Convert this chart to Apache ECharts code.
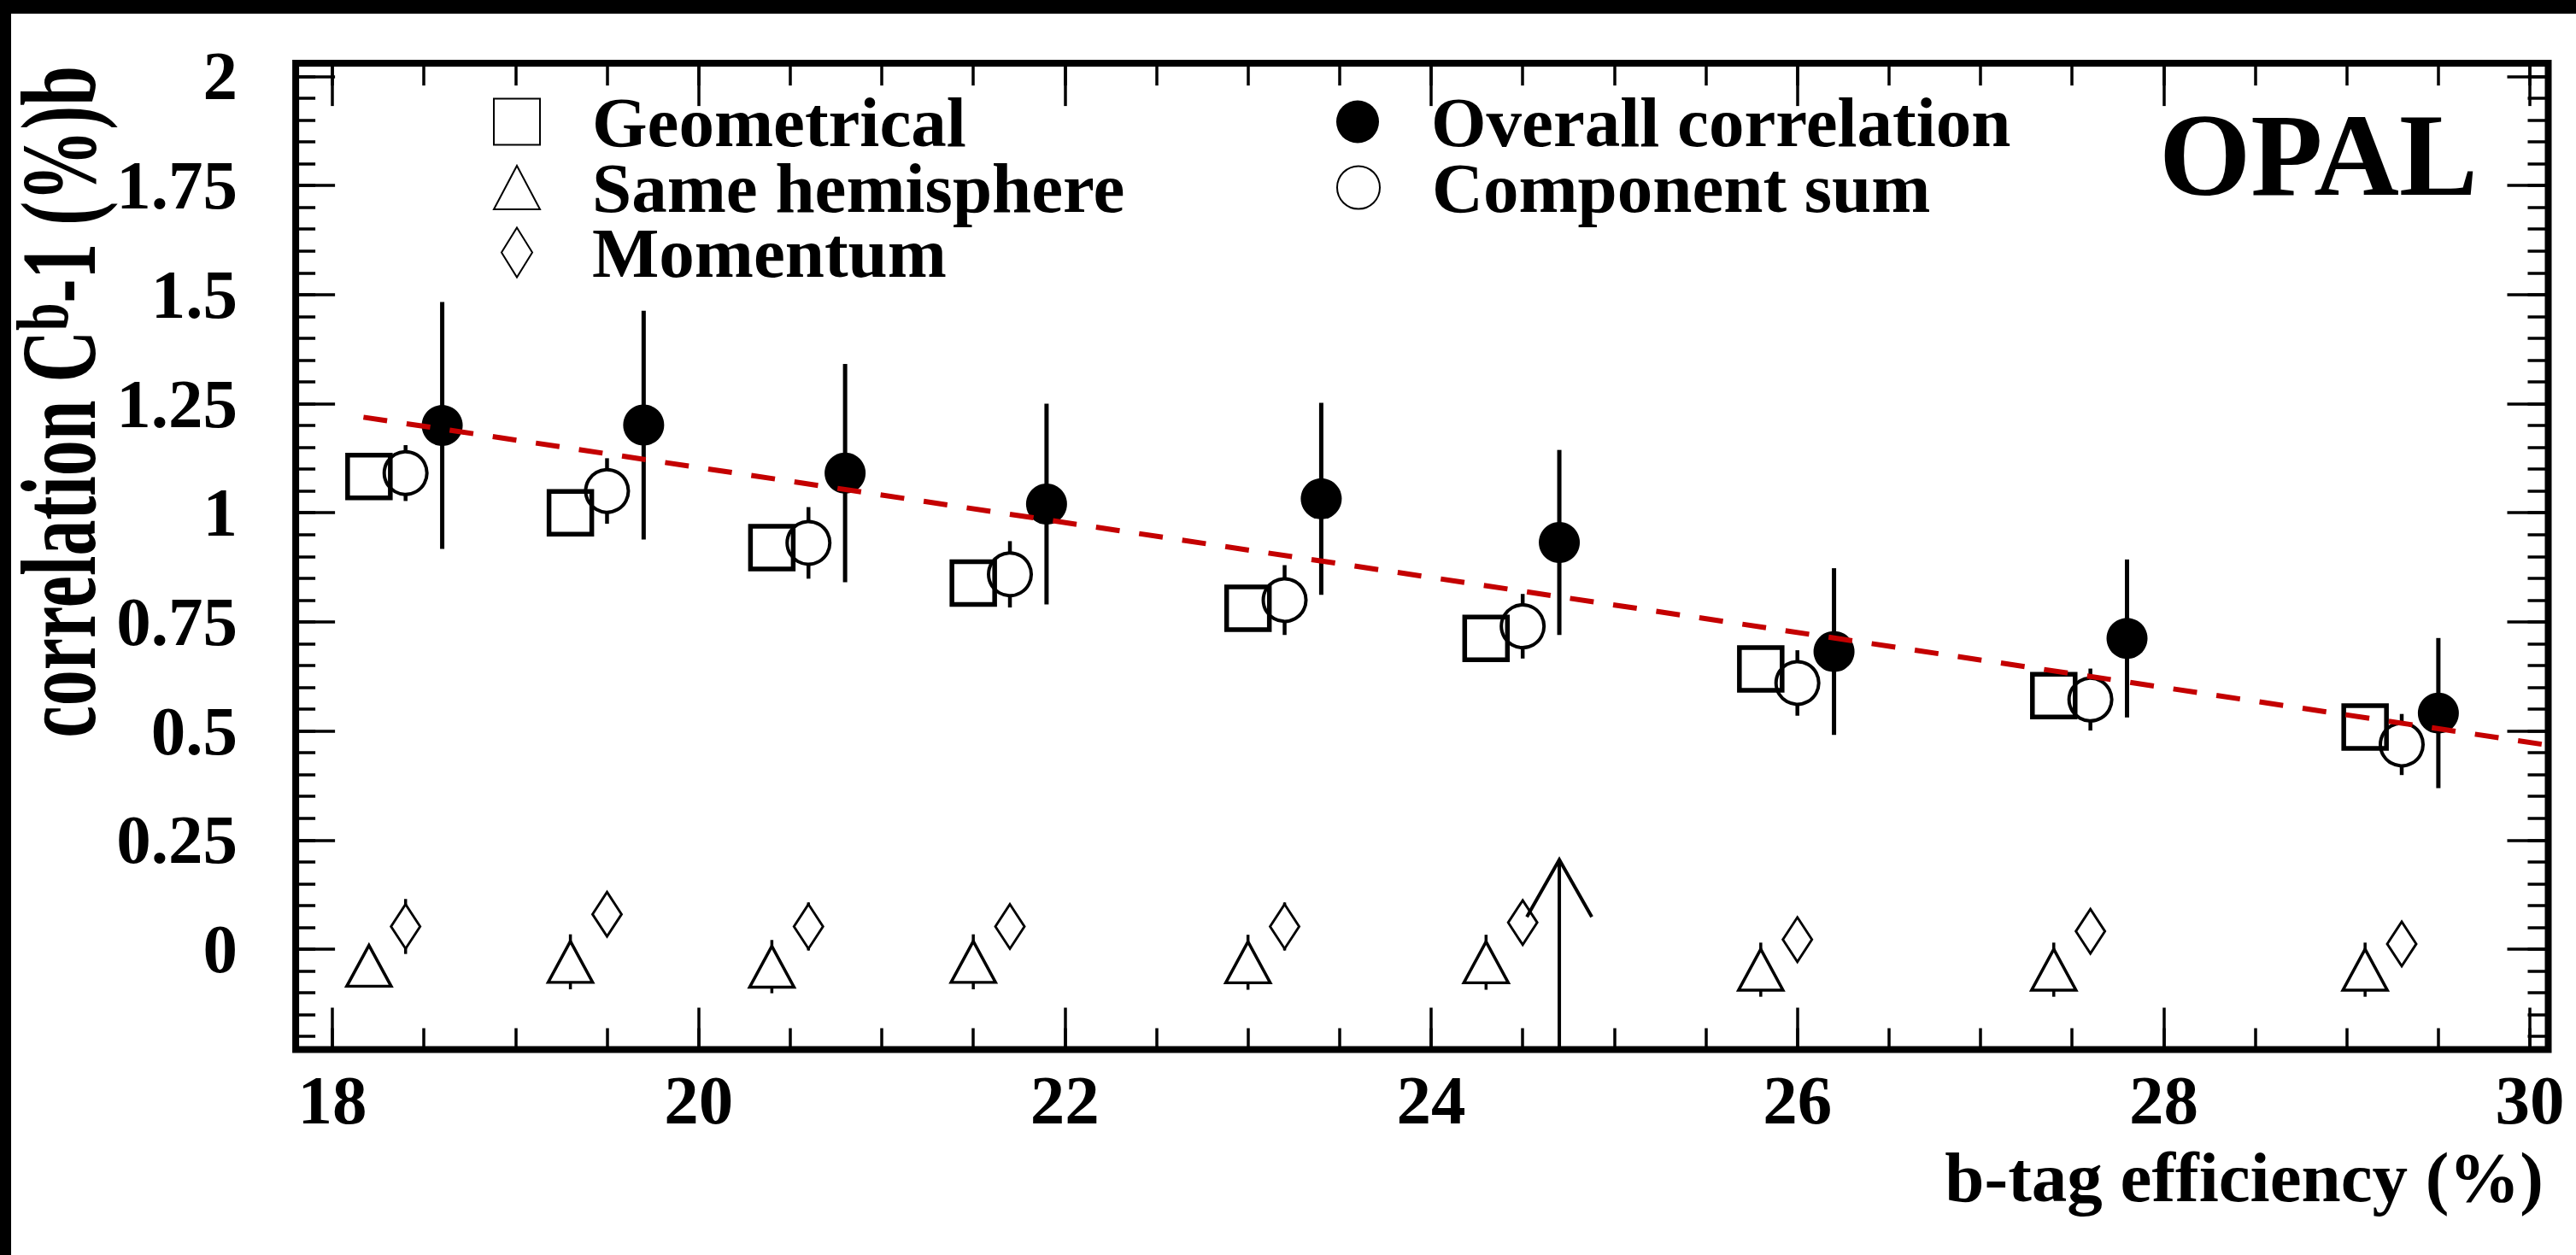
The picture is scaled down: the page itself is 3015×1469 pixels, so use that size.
<!DOCTYPE html>
<html><head><meta charset="utf-8">
<script src="https://cdn.jsdelivr.net/npm/echarts@6/dist/echarts.min.js"></script>
<style>
html,body{margin:0;padding:0;background:#fff;width:3015px;height:1469px;overflow:hidden}
#chart{position:absolute;left:0;top:0;width:3015px;height:1469px;background:#fff}
</style></head><body><div id="chart"></div>
<script>
// ---------------- data ----------------
const effGeom    = [18.2, 19.3, 20.4, 21.5, 23.0, 24.3, 25.8, 27.4, 29.1];
const effComp    = [18.4, 19.5, 20.6, 21.7, 23.2, 24.5, 26.0, 27.6, 29.3];
const effOverall = [18.6, 19.7, 20.8, 21.9, 23.4, 24.7, 26.2, 27.8, 29.5];

const geometrical = [1.083, 1.000, 0.920, 0.839, 0.781, 0.712, 0.642, 0.581, 0.509];
const sameHemi    = [-0.038, -0.029, -0.040, -0.029, -0.030, -0.030, -0.047, -0.047, -0.047];
const sameHemiErr = [0.040, 0.063, 0.061, 0.063, 0.063, 0.063, 0.062, 0.062, 0.062];
const momentum    = [0.052, 0.080, 0.052, 0.052, 0.052, 0.061, 0.022, 0.041, 0.012];
const momentumErr = [0.063, 0.030, 0.055, 0.030, 0.055, 0.030, 0.030, 0.030, 0.030];
const overall     = [1.200, 1.201, 1.091, 1.020, 1.032, 0.932, 0.682, 0.712, 0.541];
const overallErr  = [0.283, 0.262, 0.250, 0.230, 0.220, 0.212, 0.191, 0.181, 0.172];
const compSum     = [1.091, 1.050, 0.931, 0.859, 0.800, 0.740, 0.610, 0.572, 0.469];
const compSumErr  = [0.064, 0.075, 0.082, 0.076, 0.080, 0.074, 0.075, 0.071, 0.070];

const fitX = [18.17, 30.25];
const fitY = [1.219, 0.458];

const arrowX = [24.7];
const arrowTipY = [0.205];

const xRange = [17.8, 30.1];
const yRange = [-0.23, 2.03];
const xMajorTicks = [18, 20, 22, 24, 26, 28, 30];
const xMinorTicks = [18,18.5,19,19.5,20,20.5,21,21.5,22,22.5,23,23.5,24,24.5,25,25.5,26,26.5,27,27.5,28,28.5,29,29.5,30];
const yMajorTicks = [0, 0.25, 0.5, 0.75, 1, 1.25, 1.5, 1.75, 2];
const yMinorTicks = [-0.2,-0.15,-0.1,-0.05,0,0.05,0.1,0.15,0.2,0.25,0.3,0.35,0.4,0.45,0.5,0.55,0.6,0.65,0.7,0.75,0.8,0.85,0.9,0.95,1,1.05,1.1,1.15,1.2,1.25,1.3,1.35,1.4,1.45,1.5,1.55,1.6,1.65,1.7,1.75,1.8,1.85,1.9,1.95,2];

const legendLeft  = ['Geometrical', 'Same hemisphere', 'Momentum'];
const legendRight = ['Overall correlation', 'Component sum'];
const xTitle = 'b-tag efficiency (%)';
const expLabel = 'OPAL';

// ---------------- chart ----------------
const FONT = "'Liberation Serif', 'Times New Roman', serif";
const chart = echarts.init(document.getElementById('chart'), null, {renderer: 'svg'});

const ICON_SQUARE = 'path://M0,0H54V54H0Z';
const ICON_TRI = 'path://M27,0L54,51L0,51Z';
const ICON_DIAMOND = 'path://M18,0L36,29L18,58L0,29Z';
const ICON_CIRCLE = 'path://M25,0A25,25,0,1,1,25,50A25,25,0,1,1,25,0Z';

function xAxisDef(pos, ticks, len, withLabels) {
  return {
    type: 'value', position: pos, min: xRange[0], max: xRange[1],
    axisLine: {show: false, onZero: false}, splitLine: {show: false},
    axisTick: {show: true, inside: true, length: len, customValues: ticks,
               lineStyle: {color: '#000', width: 3.5}},
    axisLabel: withLabels ? {show: true, customValues: xMajorTicks, margin: 19, color: '#000',
               fontFamily: FONT, fontWeight: 'bold', fontSize: 81,
               formatter: v => String(v)} : {show: false}
  };
}
function yAxisDef(pos, ticks, len, withLabels) {
  return {
    type: 'value', position: pos, min: yRange[0], max: yRange[1],
    axisLine: {show: false, onZero: false}, splitLine: {show: false},
    axisTick: {show: true, inside: true, length: len, customValues: ticks,
               lineStyle: {color: '#000', width: 3.5}},
    axisLabel: withLabels ? {show: true, customValues: yMajorTicks, margin: 68, color: '#000',
               fontFamily: FONT, fontWeight: 'bold', fontSize: 81,
               formatter: v => String(v)} : {show: false}
  };
}

function errBar(gap, width) {
  return function (params, api) {
    const x = api.value(0), y = api.value(1), e = api.value(2);
    const c = api.coord([x, y]);
    const top = api.coord([x, y + e]);
    const bot = api.coord([x, y - e]);
    const kids = [];
    if (c[1] - gap > top[1]) kids.push({type: 'line', shape: {x1: c[0], y1: top[1], x2: c[0], y2: c[1] - gap},
      style: {stroke: '#000', lineWidth: width}});
    if (bot[1] > c[1] + gap) kids.push({type: 'line', shape: {x1: c[0], y1: c[1] + gap, x2: c[0], y2: bot[1]},
      style: {stroke: '#000', lineWidth: width}});
    return {type: 'group', children: kids};
  };
}

const hollow = (w) => ({color: 'rgba(0,0,0,0)', borderColor: '#000', borderWidth: w, opacity: 1});

function legendRow(name, icon, left, iconCenterY, iconW) {
  return {
    left: left, top: iconCenterY - 35 - 9, orient: 'vertical', padding: 0,
    itemWidth: iconW, itemHeight: 58, selectedMode: false,
    textStyle: {color: '#000', fontFamily: FONT, fontWeight: 'bold', fontSize: 83, lineHeight: 70,
                padding: [0, 0, 0, 56]},
    data: [{name: name, icon: icon}]
  };
}

const option = {
  animation: false,
  backgroundColor: '#fff',
  grid: {left: 346.1, top: 74.1, width: 2636.4, height: 1154.4, show: true,
         borderColor: '#000', borderWidth: 8, backgroundColor: 'rgba(0,0,0,0)'},
  xAxis: [
    xAxisDef('bottom', xMajorTicks, 49, true),
    xAxisDef('bottom', xMinorTicks, 25, false),
    xAxisDef('top', xMajorTicks, 50, false),
    xAxisDef('top', xMinorTicks, 26, false)
  ],
  yAxis: [
    yAxisDef('left', yMajorTicks, 46, true),
    yAxisDef('left', yMinorTicks, 23, false),
    yAxisDef('right', yMajorTicks, 48, false),
    yAxisDef('right', yMinorTicks, 24, false)
  ],
  legend: [
    legendRow(legendLeft[0], ICON_SQUARE, 577, 145, 54),
    legendRow(legendLeft[1], ICON_TRI, 577, 222, 54),
    legendRow(legendLeft[2], ICON_DIAMOND, 586, 298, 54),
    legendRow(legendRight[0], ICON_CIRCLE, 1564, 145, 50),
    legendRow(legendRight[1], ICON_CIRCLE, 1564, 222, 50)
  ],
  graphic: [
    {type: 'text', x: 2900, y: 181, z: 10,
     style: {text: expLabel, align: 'right', verticalAlign: 'middle', fill: '#000',
             font: "bold 138px 'Liberation Serif', 'Times New Roman', serif"}},
    {type: 'text', x: 2977, y: 1378, z: 10,
     style: {text: xTitle, align: 'right', verticalAlign: 'middle', fill: '#000',
             font: "bold 83px 'Liberation Serif', 'Times New Roman', serif"}},
    {type: 'text', x: 69, y: 77, rotation: Math.PI / 2, scaleY: 1.5, z: 10,
     style: {text: '{a|correlation C}{s|b}{a|-1 (%)b}', align: 'right', verticalAlign: 'middle',
             fill: '#000', lineHeight: 84,
             rich: {a: {fontFamily: FONT, fontWeight: 'bold', fontSize: 84, lineHeight: 84, fill: '#000'},
                    s: {fontFamily: FONT, fontWeight: 'bold', fontSize: 58, lineHeight: 40, verticalAlign: 'top', fill: '#000'}}}},
    // black scan border on top and left edges of the picture
    {type: 'rect', z: 100, silent: true, shape: {x: 0, y: 0, width: 3015, height: 16}, style: {fill: '#000'}},
    {type: 'rect', z: 100, silent: true, shape: {x: 0, y: 0, width: 13, height: 1469}, style: {fill: '#000'}}
  ],
  series: [
    {type: 'custom', name: 'err-same', silent: true, z: 3,
     data: effGeom.map((x, i) => [x, sameHemi[i], sameHemiErr[i]]), renderItem: errBar(24, 3.5)},
    {type: 'custom', name: 'err-mom', silent: true, z: 3,
     data: effComp.map((x, i) => [x, momentum[i], momentumErr[i]]), renderItem: errBar(25, 3.5)},
    {type: 'custom', name: 'err-comp', silent: true, z: 3,
     data: effComp.map((x, i) => [x, compSum[i], compSumErr[i]]), renderItem: errBar(25, 4.5)},
    {type: 'custom', name: 'err-overall', silent: true, z: 3,
     data: effOverall.map((x, i) => [x, overall[i], overallErr[i]]), renderItem: errBar(0, 5)},
    {type: 'custom', name: 'arrow', silent: true, z: 3,
     data: arrowX.map((x, i) => [x, arrowTipY[i]]),
     renderItem: function (params, api) {
       const tip = api.coord([api.value(0), api.value(1)]);
       const base = api.coord([api.value(0), yRange[0]]);
       return {type: 'group', children: [
         {type: 'line', shape: {x1: tip[0], y1: base[1], x2: tip[0], y2: tip[1]},
          style: {stroke: '#000', lineWidth: 4}},
         {type: 'polyline', shape: {points: [[tip[0] - 38, tip[1] + 67], [tip[0], tip[1]], [tip[0] + 38, tip[1] + 67]]},
          style: {stroke: '#000', lineWidth: 4, fill: 'none'}}
       ]};
     }},
    {type: 'scatter', name: legendLeft[0], z: 5, symbol: 'rect', symbolSize: 50,
     itemStyle: hollow(5.5), data: effGeom.map((x, i) => [x, geometrical[i]])},
    {type: 'scatter', name: legendLeft[1], z: 5, symbol: 'path://M26,0L52,48L0,48Z', symbolSize: [52, 48],
     itemStyle: hollow(3.5), data: effGeom.map((x, i) => [x, sameHemi[i]])},
    {type: 'scatter', name: legendLeft[2], z: 5, symbol: 'path://M17,0L34,26L17,52L0,26Z', symbolSize: [34, 52],
     itemStyle: hollow(3), data: effComp.map((x, i) => [x, momentum[i]])},
    {type: 'scatter', name: legendRight[0], z: 5, symbol: 'circle', symbolSize: 48,
     itemStyle: {color: '#000', borderWidth: 0, opacity: 1}, data: effOverall.map((x, i) => [x, overall[i]])},
    {type: 'scatter', name: legendRight[1], z: 5, symbol: 'circle', symbolSize: 50,
     itemStyle: hollow(4), data: effComp.map((x, i) => [x, compSum[i]])},
    {type: 'line', name: 'fit', z: 8, clip: false, showSymbol: false, symbol: 'none', silent: true,
     lineStyle: {color: '#c40000', width: 6, type: [28, 23], opacity: 1},
     data: fitX.map((x, i) => [x, fitY[i]])}
  ]
};
chart.setOption(option);
</script></body></html>
